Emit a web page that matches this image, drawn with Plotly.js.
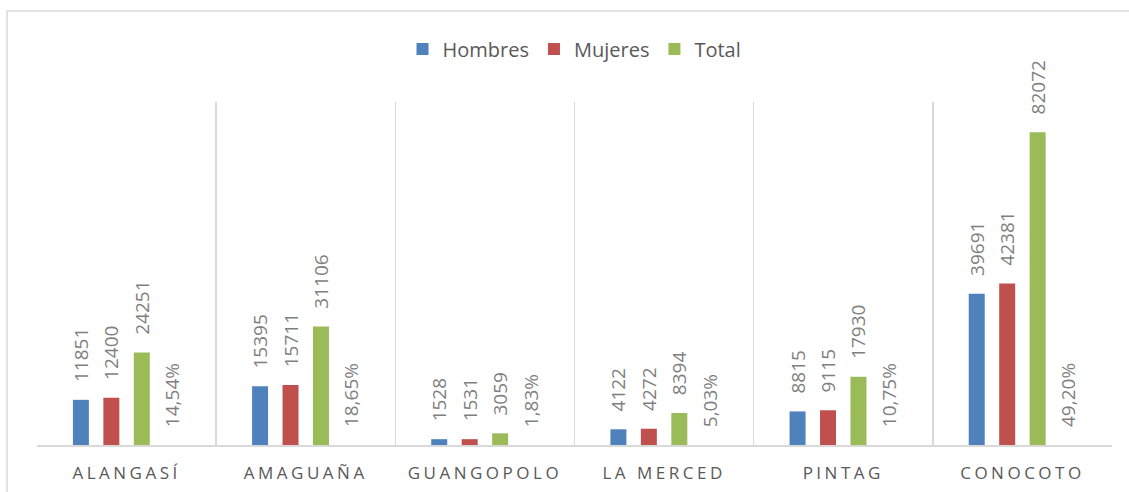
<!DOCTYPE html>
<html>
<head>
<meta charset="utf-8">
<script src="https://cdn.plot.ly/plotly-3.0.1.min.js"></script>
<style>
html,body{margin:0;padding:0;background:#fff;}
#chart{width:1129px;height:492px;}
.xtick text{letter-spacing:3.5px;}
</style>
</head>
<body>
<div id="chart"></div>
<script>
var categories = ["ALANGASÍ", "AMAGUAÑA", "GUANGOPOLO", "LA MERCED", "PINTAG", "CONOCOTO"];
var hombres = [11851, 15395, 1528, 4122, 8815, 39691];
var mujeres = [12400, 15711, 1531, 4272, 9115, 42381];
var total = [24251, 31106, 3059, 8394, 17930, 82072];
var porcentaje = [14.54, 18.65, 1.83, 5.03, 10.75, 49.20];

var PAD = "\u00a0\u00a0\u00a0";
var labelFont = {family: "Open Sans, sans-serif", size: 19, color: "#7f7f7f"};

function barTrace(name, values, color, texts, showlegend) {
  return {
    type: "bar", name: name, x: categories, y: values,
    marker: {color: color},
    text: texts, textposition: "outside", textangle: -90,
    texttemplate: "%{text}", constraintext: "none", cliponaxis: false,
    textfont: labelFont, showlegend: showlegend, hoverinfo: "x+y+name"
  };
}

var data = [
  barTrace("Hombres", hombres, "#4f81bd", hombres.map(function(v){return PAD + v;}), true),
  barTrace("Mujeres", mujeres, "#c0504d", mujeres.map(function(v){return PAD + v;}), true),
  barTrace("Total", total, "#9bbb59", total.map(function(v){return PAD + v;}), true),
  barTrace("Porcentaje", porcentaje, "rgba(0,0,0,0)", porcentaje.map(function(v){return PAD + v.toFixed(2).replace(".", ",") + "%";}), false)
];

var layout = {
  width: 1129, height: 492,
  margin: {l: 37, r: 17, t: 102, b: 47},
  paper_bgcolor: "#ffffff", plot_bgcolor: "#ffffff",
  barmode: "group", bargap: 0.32, bargroupgap: 0.475,
  xaxis: {
    type: "category", tickson: "boundaries", showgrid: true, gridcolor: "#d9d9d9", gridwidth: 1.5,
    showline: true, linecolor: "#d9d9d9", linewidth: 1.5, ticks: "", ticklen: 0,
    ticklabelstandoff: 12,
    tickfont: {family: "Open Sans, sans-serif", size: 17, color: "#595959"},
    range: [-0.5, 5.5], fixedrange: true
  },
  yaxis: {
    range: [0, 90000], showgrid: false, zeroline: false, showticklabels: false,
    showline: false, ticks: "", fixedrange: true
  },
  showlegend: true,
  legend: {
    orientation: "h", x: 0.5, xanchor: "center", y: 1.1545, yanchor: "middle",
    font: {family: "Open Sans, sans-serif", size: 20, color: "#595959"},
    itemclick: false, itemdoubleclick: false, traceorder: "normal"
  },
  shapes: [{
    type: "rect", xref: "paper", yref: "paper",
    x0: -0.0279, x1: 1.2, y0: -0.3, y1: 1.2653,
    line: {color: "#d9d9d9", width: 1.5}, fillcolor: "rgba(0,0,0,0)", layer: "below"
  }],
  font: {family: "Open Sans, sans-serif", color: "#595959"}
};

Plotly.newPlot("chart", data, layout, {displayModeBar: false, staticPlot: true});
</script>
</body>
</html>
